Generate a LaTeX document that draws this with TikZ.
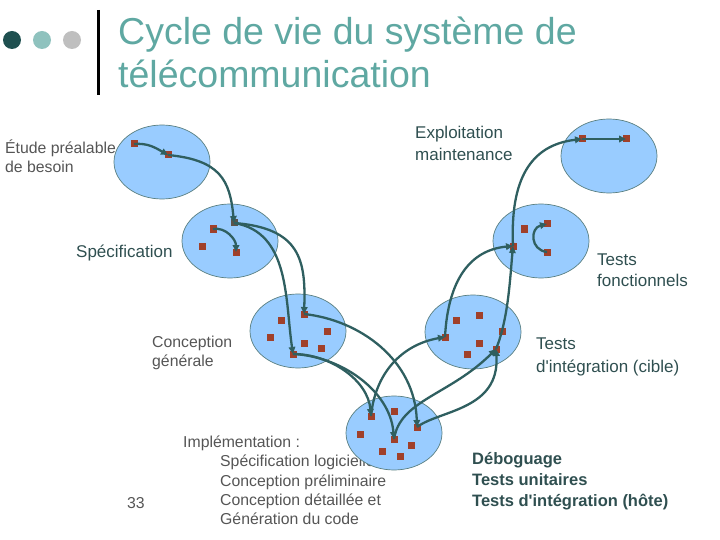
\documentclass[tikz,border=0pt]{standalone}
\usepackage{fontspec}
\setmainfont{Liberation Sans}
\usetikzlibrary{shapes.geometric,arrows.meta}
\definecolor{ell}{HTML}{99CCFF}
\definecolor{sq}{HTML}{A0402A}
\definecolor{arr}{HTML}{2F5F60}
\definecolor{ttl}{HTML}{5FA8A2}
\definecolor{gry}{HTML}{555555}
\definecolor{dk}{HTML}{2F4F50}
\definecolor{dot1}{HTML}{1F5050}
\newcommand{\aq}{\textquotesingle}
\tikzset{
 cell/.style={ellipse,draw=arr!80,line width=0.7pt,fill=ell,minimum width=96pt,minimum height=74pt,inner sep=0},
 sqr/.style={rectangle,fill=sq,minimum size=7pt,inner sep=0},
 ar/.style={draw=arr,line width=2.3pt,-{Triangle[length=7pt,width=6.5pt]}},
 gl/.style={anchor=base west,text=gry,font=\fontsize{15.8pt}{18pt}\selectfont,inner sep=0},
 dl/.style={anchor=base west,text=dk,font=\fontsize{17pt}{20pt}\selectfont,inner sep=0},
 bl/.style={anchor=base west,text=dk,font=\fontsize{16.5pt}{20pt}\selectfont\bfseries,inner sep=0},
 tl/.style={anchor=base west,text=ttl,font=\fontsize{37.5pt}{42pt}\selectfont,inner sep=0}
}
\begin{document}
\begin{tikzpicture}[x=1pt,y=-1pt]
\useasboundingbox (0,0) rectangle (720,540);
% header
\fill[dot1] (12,40) circle (9);
\fill[ttl!70] (42,40) circle (9);
\fill[gray!50] (72,40) circle (9);
\draw[line width=3pt] (98,10) -- (98,95);
\node[tl] (t1) at (118,45) {Cycle de vie du système de};
\node[tl] (t2) at (118,88) {télécommunication};
% labels (under the ellipses)
\node[gl] (l1) at (5,154) {Étude préalable};
\node[gl] (l1b) at (5,173) {de besoin};
\node[dl] (l2) at (76,258) {Spécification};
\node[dl] (l3) at (415,139) {Exploitation};
\node[dl] (l3b) at (415,161) {maintenance};
\node[dl] (l4) at (597,265) {Tests};
\node[dl] (l4b) at (597,286) {fonctionnels};
\node[gl] (l5) at (152,347) {Conception};
\node[gl] (l5b) at (152,366) {générale};
\node[dl] (l6) at (536,349) {Tests};
\node[dl] (l6b) at (536,372) {d\aq intégration (cible)};
\node[gl] (l7) at (183,447) {Implémentation :};
\node[gl] (l7b) at (220,466) {Spécification logicielle};
\node[gl] (l7c) at (220,486) {Conception préliminaire};
\node[gl] (l7d) at (220,505) {Conception détaillée et};
\node[gl] (l7e) at (220,524) {Génération du code};
\node[gl] (n33) at (127,508) {33};
\node[bl] (l8) at (472,464) {Déboguage};
\node[bl] (l8b) at (472,485) {Tests unitaires};
\node[bl] (l8c) at (472,506) {Tests d\aq intégration (hôte)};
% ellipses
\node[cell] (e1) at (162,162) {};
\node[cell] (e2) at (230,241) {};
\node[cell] (e3) at (298,331) {};
\node[cell] (e4) at (394,433) {};
\node[cell] (e5) at (473,332) {};
\node[cell] (e6) at (541,241) {};
\node[cell] (e7) at (609,156) {};
% squares
\node[sqr] (a1) at (134,144) {};
\node[sqr] (a2) at (168,155) {};
\node[sqr] (b1) at (213,229) {};
\node[sqr] (b2) at (202,246) {};
\node[sqr] (b3) at (236,252) {};
\node[sqr,fill=arr!60!sq] (b0) at (234,223) {};
\node[sqr] (c1) at (281,320) {};
\node[sqr] (c2) at (304,314) {};
\node[sqr] (c3) at (270,337) {};
\node[sqr] (c4) at (327,331) {};
\node[sqr] (c5) at (304,343) {};
\node[sqr] (c6) at (321,348) {};
\node[sqr] (c7) at (293,354) {};
\node[sqr] (d1) at (371,416) {};
\node[sqr] (d2) at (394,411) {};
\node[sqr] (d3) at (360,434) {};
\node[sqr] (d4) at (394,439) {};
\node[sqr] (d5) at (417,427) {};
\node[sqr] (d6) at (411,445) {};
\node[sqr] (d7) at (382,451) {};
\node[sqr] (d8) at (400,456) {};
\node[sqr] (f1) at (456,320) {};
\node[sqr] (f2) at (479,315) {};
\node[sqr] (f3) at (502,331) {};
\node[sqr] (f4) at (445,337) {};
\node[sqr] (f5) at (479,343) {};
\node[sqr] (f6) at (496,349) {};
\node[sqr] (f7) at (467,354) {};
\node[sqr] (g1) at (524,229) {};
\node[sqr] (g2) at (547,224) {};
\node[sqr] (g3) at (513,246) {};
\node[sqr] (g4) at (547,252) {};
\node[sqr] (h1) at (582,139) {};
\node[sqr] (h2) at (626,139) {};
% arrows
\draw[ar] (a1.center) to[out=5,in=150] (a2.center);
\draw[ar] (a2.center) .. controls (220,160) and (230,180) .. (b0.center);
\draw[ar] (b1.center) to[out=10,in=90] (b3.center);
\draw[ar] (b0.center) .. controls (300,228) and (306,260) .. (c2.center);
\draw[ar] (b0.center) .. controls (290,232) and (285,300) .. (c7.center);
\draw[ar] (c2.center) .. controls (360,320) and (415,360) .. (d5.center);
\draw[ar] (c7.center) .. controls (330,354) and (368,380) .. (d1.center);
\draw[ar] (c7.center) .. controls (340,356) and (390,390) .. (d4.center);
\draw[ar] (d1.center) .. controls (375,375) and (400,345) .. (f4.center);
\draw[ar] (d4.center) .. controls (400,400) and (450,395) .. (f6.center);
\draw[ar] (d5.center) .. controls (440,410) and (500,410) .. (f6.center);
\draw[ar] (f6.center) .. controls (508,320) and (510,280) .. (g3.center);
\draw[ar] (f4.center) .. controls (448,280) and (470,250) .. (g3.center);
\draw[ar] (g3.center) .. controls (510,180) and (530,145) .. (h1.center);
\draw[ar] (g4.center) .. controls (530,250) and (530,228) .. (g2.center);
\draw[ar] (h1.center) -- (h2.center);
\end{tikzpicture}
\end{document}
